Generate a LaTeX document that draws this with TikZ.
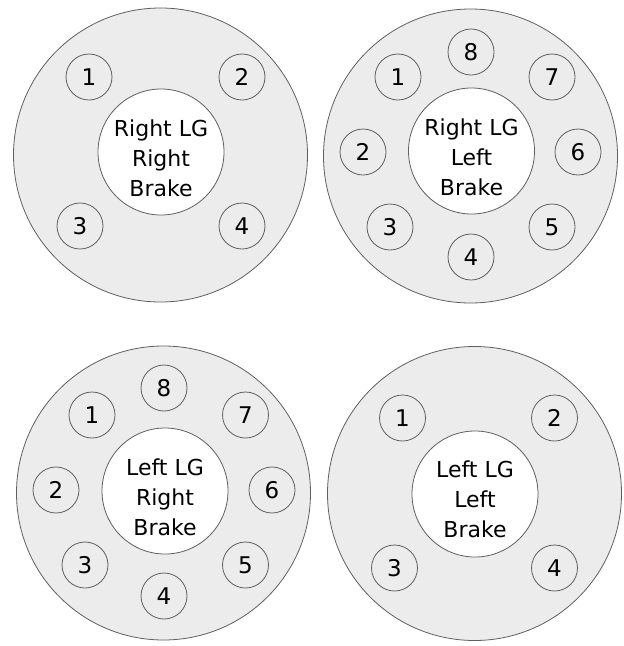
\documentclass[tikz,border=0pt]{standalone}
\usepackage{fontspec}
\setmainfont{DejaVu Sans}
\definecolor{diskfill}{RGB}{236,236,236}
\definecolor{edgegray}{RGB}{95,95,95}
\begin{document}
\begin{tikzpicture}[x=1pt,y=-1pt,
  disk/.style={circle,draw=edgegray,fill=diskfill,line width=0.8pt,minimum size=294pt,inner sep=0pt},
  hub/.style={circle,draw=edgegray,fill=white,line width=0.8pt,minimum size=126pt,inner sep=0pt},
  padcircle/.style={circle,draw=edgegray,line width=0.8pt,minimum size=46pt,inner sep=0pt,font=\fontsize{23}{26}\selectfont},
  hubtext/.style={align=center,font=\fontsize{22}{30}\selectfont,inner sep=0pt}]
\useasboundingbox (0,0) rectangle (624,646);
% top left
\node[disk] (tl) at (160.5,155) {};
\node[hub] (tlhub) at (161,152) {};
\node[hubtext] (tltext) at (161,158) {Right LG\\Right\\Brake};
\node[padcircle] (tl1) at (89,77) {1};
\node[padcircle] (tl2) at (242,77) {2};
\node[padcircle] (tl3) at (80,226) {3};
\node[padcircle] (tl4) at (242,226) {4};
% top right
\node[disk] (tr) at (470.5,156) {};
\node[hub] (trhub) at (471.5,151) {};
\node[hubtext] (trtext) at (471.5,157) {Right LG\\Left\\Brake};
\node[padcircle] (tr8) at (471,52) {8};
\node[padcircle] (tr1) at (398,77) {1};
\node[padcircle] (tr7) at (552,77) {7};
\node[padcircle] (tr2) at (363,152) {2};
\node[padcircle] (tr6) at (578,152) {6};
\node[padcircle] (tr3) at (390,227) {3};
\node[padcircle] (tr5) at (552,227) {5};
\node[padcircle] (tr4) at (471,257) {4};
% bottom left
\node[disk] (bl) at (163.5,493) {};
\node[hub] (blhub) at (165,491) {};
\node[hubtext] (bltext) at (165,497) {Left LG\\Right\\Brake};
\node[padcircle] (bl8) at (164,388) {8};
\node[padcircle] (bl1) at (92,415) {1};
\node[padcircle] (bl7) at (245.5,415) {7};
\node[padcircle] (bl2) at (56,490) {2};
\node[padcircle] (bl6) at (272,490) {6};
\node[padcircle] (bl3) at (85,565) {3};
\node[padcircle] (bl5) at (245.5,565) {5};
\node[padcircle] (bl4) at (164,596) {4};
% bottom right
\node[disk] (br) at (474.5,493.5) {};
\node[hub] (brhub) at (475,494) {};
\node[hubtext] (brtext) at (475,499) {Left LG\\Left\\Brake};
\node[padcircle] (br1) at (402.5,418) {1};
\node[padcircle] (br2) at (554.5,418) {2};
\node[padcircle] (br3) at (394.5,568) {3};
\node[padcircle] (br4) at (554.5,568) {4};
\end{tikzpicture}
\end{document}
